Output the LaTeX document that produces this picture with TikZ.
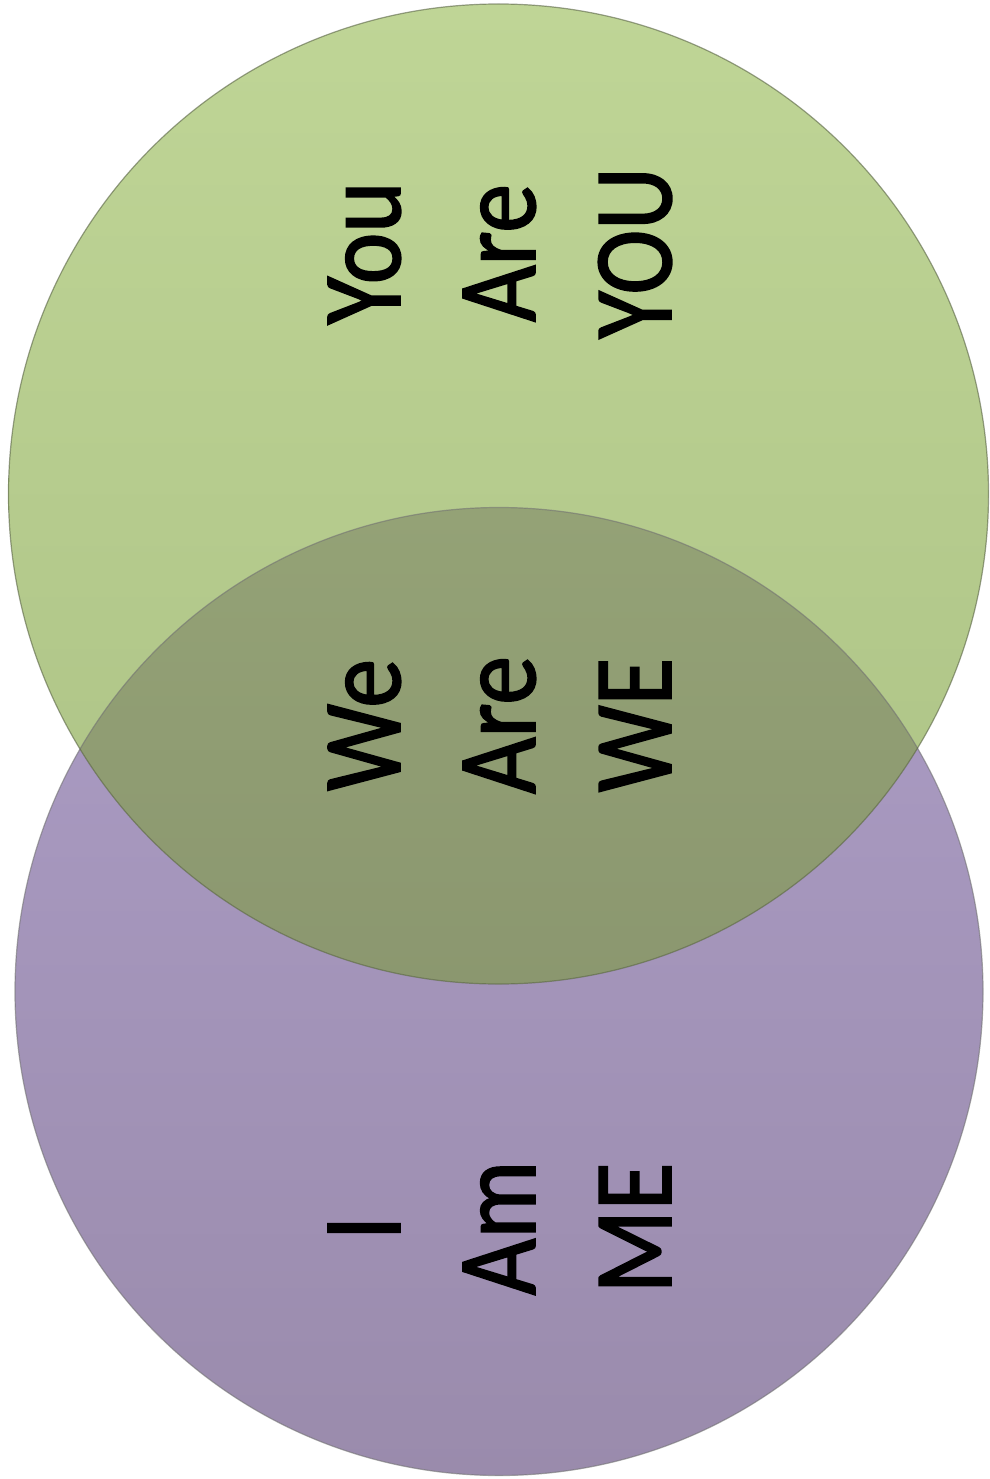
\documentclass[tikz,border=0pt]{standalone}
\usepackage{fontspec}
\newfontfamily\vennfont[FakeStretch=0.87,FakeBold=1.6]{Carlito}
\definecolor{gtop}{RGB}{191,213,150}
\definecolor{gbot}{RGB}{172,194,133}
\definecolor{ptop}{RGB}{172,157,198}
\definecolor{pbot}{RGB}{154,139,172}
\definecolor{otop}{RGB}{148,162,118}
\definecolor{obot}{RGB}{130,140,104}
\definecolor{edgecol}{RGB}{90,100,70}
\begin{document}
\begin{tikzpicture}[x=1pt,y=-1pt,
  lbl/.style={rotate=90, anchor=base, inner sep=0pt, text=black,
    font=\vennfont\fontsize{112}{136}\selectfont},
  edgeline/.style={draw=edgecol, draw opacity=0.6, line width=1.2pt}]
\useasboundingbox (0,0) rectangle (989,1479);
\coordinate (gc) at (498.5,494);
\coordinate (pc) at (499,991.5);
% purple circle
\shade[top color=ptop, bottom color=pbot] (pc) circle[radius=484];
% green circle
\shade[top color=gtop, bottom color=gbot] (gc) circle[radius=490];
% overlap
\begin{scope}
  \clip (gc) circle[radius=490];
  \shade[top color=otop, bottom color=obot] (pc) circle[radius=484];
\end{scope}
% edges
\draw[edgeline, draw=black!55] (pc) circle[radius=484];
\draw[edgeline] (gc) circle[radius=490];
% labels
\node[lbl] (you1) at (400,253) {You};
\node[lbl] (are1) at (535,253) {Are};
\node[lbl] (you2) at (671,253) {YOU};
\node[lbl] (we1)  at (400,725) {We};
\node[lbl] (are2) at (535,725) {Are};
\node[lbl] (we2)  at (671,725) {WE};
\node[lbl] (i1)   at (400,1228) {I};
\node[lbl] (am1)  at (535,1228) {Am};
\node[lbl] (me1)  at (671,1228) {ME};
\end{tikzpicture}
\end{document}
